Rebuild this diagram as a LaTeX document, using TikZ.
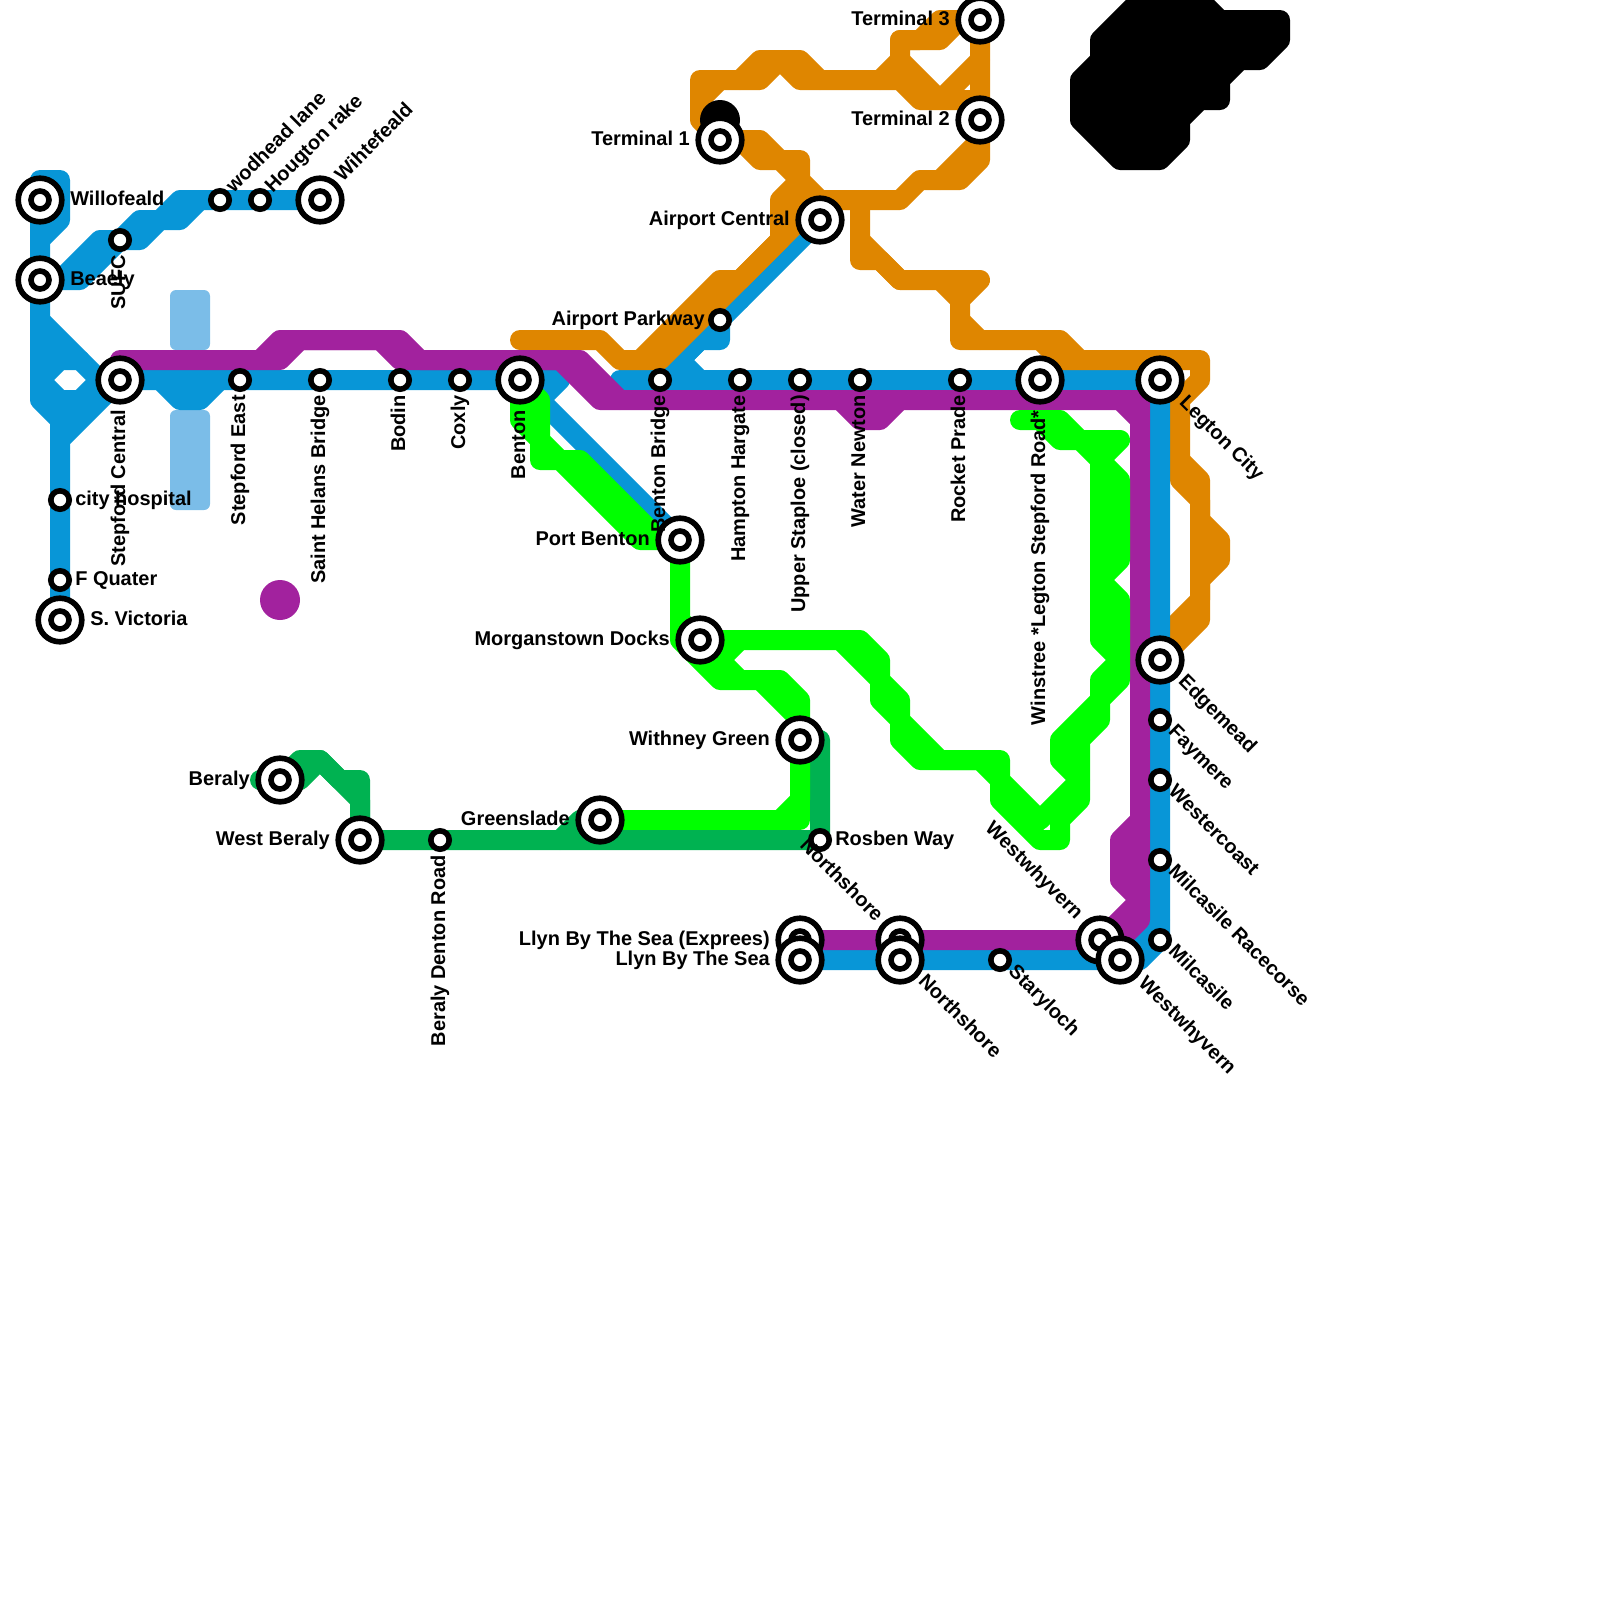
\documentclass[tikz,border=0pt]{standalone}
\usepackage{fontspec}
\setmainfont{Liberation Sans}
\definecolor{lineblue}{HTML}{0896D7}
\definecolor{lineorange}{HTML}{DF8600}
\definecolor{linepurple}{HTML}{A2229E}
\definecolor{linelime}{HTML}{00FF00}
\definecolor{linegreen}{HTML}{00B251}
\definecolor{lineshade}{HTML}{7BBDE8}
\pgfdeclarelayer{lines}
\pgfsetlayers{lines,main}
\tikzset{
  metroline/.style={line width=5mm,line cap=round,line join=round},
  smallstn/.style={circle,draw=black,fill=white,line width=1.4mm,minimum size=4.6mm,inner sep=0pt},
  bigstn/.style={circle,draw=black,fill=white,line width=1.4mm,minimum size=10.9mm,inner sep=0pt,
    path picture={\draw[line width=1.4mm] (path picture bounding box.center) circle (2.25mm);}},
  lbl/.style={font=\bfseries\fontsize{14.2}{14.2}\selectfont,inner sep=0pt,text height=10.2pt,text depth=3pt},
  lble/.style={lbl,anchor=west},
  lblw/.style={lbl,anchor=east},
  lbls/.style={lbl,anchor=east,rotate=90},
  lblne/.style={lbl,anchor=west,rotate=45},
  lblse/.style={lbl,anchor=west,rotate=-45},
  lblnw/.style={lbl,anchor=east,rotate=-45}
}
\begin{document}
\begin{tikzpicture}[x=0.5cm,y=-0.5cm]
    \useasboundingbox (0,0) rectangle (80,80);

    % Stations
    \node[bigstn] (willofeald) at (2,10) {};
    \node[bigstn] (beaely) at (2,14) {};
    \node[smallstn] (sufc) at (6,12) {};
    \node[smallstn] (wodhead) at (11,10) {};
    \node[smallstn] (hougton) at (13,10) {};
    \node[bigstn] (wihtefeald) at (16,10) {};
    \node[smallstn] (cityhospital) at (3,25) {};
    \node[smallstn] (fquater) at (3,29) {};
    \node[bigstn] (victoria) at (3,31) {};
    \node[bigstn] (stepfordcentral) at (6,19) {};
    \node[smallstn] (stepfordeast) at (12,19) {};
    \node[smallstn] (sainthelans) at (16,19) {};
    \node[smallstn] (bodin) at (20,19) {};
    \node[smallstn] (coxly) at (23,19) {};
    \node[bigstn] (benton) at (26,19) {};
    \node[smallstn] (bentonbridge) at (33,19) {};
    \node[smallstn] (hampton) at (37,19) {};
    \node[smallstn] (staploe) at (40,19) {};
    \node[smallstn] (waternewton) at (43,19) {};
    \node[smallstn] (rocketprade) at (48,19) {};
    \node[bigstn] (winstree) at (52,19) {};
    \node[bigstn] (legtoncity) at (58,19) {};
    \node[bigstn] (edgemead) at (58,33) {};
    \node[smallstn] (faymere) at (58,36) {};
    \node[smallstn] (westercoast) at (58,39) {};
    \node[smallstn] (racecorse) at (58,43) {};
    \node[smallstn] (milcasile) at (58,47) {};
    \node[bigstn] (westwhyvernp) at (55,47) {};
    \node[bigstn] (westwhyvern) at (56,48) {};
    \node[smallstn] (staryloch) at (50,48) {};
    \node[bigstn] (northshorep) at (45,47) {};
    \node[bigstn] (northshore) at (45,48) {};
    \node[bigstn] (llynexpress) at (40,47) {};
    \node[bigstn] (llyn) at (40,48) {};
    \node[smallstn] (rosben) at (41,42) {};
    \node[bigstn] (withney) at (40,37) {};
    \node[bigstn] (morganstown) at (35,32) {};
    \node[bigstn] (portbenton) at (34,27) {};
    \node[bigstn] (greenslade) at (30,41) {};
    \node[smallstn] (beralydenton) at (22,42) {};
    \node[bigstn] (westberaly) at (18,42) {};
    \node[bigstn] (beraly) at (14,39) {};
    \node[smallstn] (airportparkway) at (36,16) {};
    \node[bigstn] (airportcentral) at (41,11) {};
    \node[bigstn] (terminalone) at (36,7) {};
    \node[bigstn] (terminaltwo) at (49,6) {};
    \node[bigstn] (terminalthree) at (49,1) {};

    \begin{pgfonlayer}{lines}
    % Shaded blocks
    \fill[lineshade,rounded corners=1.5mm] (8.5,14.5) rectangle (10.5,17.5);
    \fill[lineshade,rounded corners=1.5mm] (8.5,20.5) rectangle (10.5,25.5);

    % Blue line
    \draw[metroline,lineblue] (willofeald.center) -- (2,9) -- (3,9) -- (3,11) -- (2,12);
    \draw[metroline,lineblue] (willofeald.center) -- (beaely.center) -- (2,20) -- (3,21) -- (3,22);
    \draw[metroline,lineblue] (beaely.center) -- (3,14) -- (5,12) -- (sufc.center) -- (7,11) -- (8,11) -- (9,10) -- (wodhead.center) -- (hougton.center) -- (wihtefeald.center);
    \draw[metroline,lineblue] (3,14) -- (4,14) -- (sufc.center) -- (7,12) -- (8,11) -- (9,11) -- (10,10);
    \draw[metroline,lineblue] (2,16) -- (5,19) -- (stepfordcentral.center);
    \draw[metroline,lineblue] (2,17) -- (3,18);
    \draw[metroline,lineblue] (2,19) -- (3,18) -- (4,18);
    \draw[metroline,lineblue] (2,19) -- (3,20) -- (4,20) -- (5,19);
    \draw[metroline,lineblue] (3,21) -- (4,20);
    \draw[metroline,lineblue] (victoria.center) -- (fquater.center) -- (cityhospital.center) -- (3,22) -- (stepfordcentral.center);
    \draw[metroline,lineblue] (stepfordcentral.center) -- (stepfordeast.center) -- (sainthelans.center) -- (bodin.center) -- (coxly.center) -- (benton.center) -- (28,19) -- (27,20);
    \draw[metroline,lineblue] (8,19) -- (9,20) -- (10,20) -- (11,19);
    \draw[metroline,lineblue] (benton.center) -- (portbenton.center);
    \draw[metroline,lineblue] (31,19) -- (bentonbridge.center) -- (hampton.center) -- (staploe.center) -- (waternewton.center) -- (rocketprade.center) -- (winstree.center) -- (legtoncity.center);
    \draw[metroline,lineblue] (airportcentral.center) -- (bentonbridge.center);
    \draw[metroline,lineblue] (37,15) -- (36,15) -- (airportparkway.center) -- (36,17) -- (35,17) -- (34,18) -- (35,19);

    % Orange line
    \draw[metroline,lineorange] (26,17) -- (30,17) -- (31,18) -- (33,18) -- (37,14) -- (39,12);
    \draw[metroline,lineorange] (32,18) -- (36,14) -- (37,14);
    \draw[metroline,lineorange] (37,14) -- (40,11) -- (40,9);
    \draw[metroline,lineorange] (39,12) -- (39,10) -- (40,9);
    \draw[metroline,lineorange] (terminalone.center) -- (38,7) -- (39,8) -- (40,8) -- (40,9) -- (41,10) -- (45,10) -- (46,9) -- (48,9) -- (49,8) -- (terminaltwo.center) -- (terminalthree.center) -- (47,1) -- (46,2) -- (45,2) -- (45,3) -- (44,4) -- (41,4) -- (40,3) -- (38,3) -- (37,4) -- (35,4) -- (35,6) -- (terminalone.center);
    \draw[metroline,lineorange] (35,5) -- (36,4);
    \draw[metroline,lineorange] (37,4) -- (38,4) -- (39,3) -- (40,4) -- (41,4);
    \draw[metroline,lineorange] (37,7) -- (38,8) -- (39,8) -- (40,9);
    \draw[metroline,lineorange] (47,9) -- (49,7);
    \draw[metroline,lineorange] (45,2) -- (47,2) -- (48,1);
    \draw[metroline,lineorange] (45,3) -- (47,5) -- (49,3);
    \draw[metroline,lineorange] (44,4) -- (45,4) -- (46,5) -- (49,5);
    \draw[metroline,lineorange] (43,10) -- (43,13) -- (44,13) -- (45,14) -- (49,14) -- (48,15) -- (48,17) -- (53,17) -- (54,18) -- (60,18) -- (60,19) -- (59,20) -- (59,24) -- (60,25) -- (60,30) -- (58,32);
    \draw[metroline,lineorange] (43,12) -- (45,14);
    \draw[metroline,lineorange] (47,14) -- (48,15);
    \draw[metroline,lineorange] (48,16) -- (49,17);
    \draw[metroline,lineorange] (52,17) -- (53,18) -- (54,18);
    \draw[metroline,lineorange] (59,23) -- (60,24) -- (60,26) -- (61,27) -- (61,28) -- (60,29) -- (60,31) -- (edgemead.center);

    % Blue line, east side
    \draw[metroline,lineblue] (legtoncity.center) -- (edgemead.center) -- (faymere.center) -- (westercoast.center) -- (racecorse.center) -- (milcasile.center) -- (57,48) -- (westwhyvern.center) -- (staryloch.center) -- (northshore.center) -- (llyn.center);
    \draw[metroline,lineblue] (58,46) -- (westwhyvern.center);

    % Purple line
    \draw[metroline,linepurple] (6,18) -- (14,18) -- (15,17) -- (19,17) -- (20,18) -- (28,18) -- (30,20) -- (57,20) -- (57,46) -- (56,47) -- (westwhyvernp.center) -- (northshorep.center) -- (llynexpress.center);
    \draw[metroline,linepurple] (13,18) -- (14,17) -- (20,17) -- (21,18) -- (29,18) -- (31,20);
    \draw[metroline,linepurple] (42,20) -- (43,21) -- (44,21) -- (45,20);
    \draw[metroline,linepurple] (56,20) -- (57,21);
    \draw[metroline,linepurple] (57,41) -- (56,42) -- (56,44) -- (57,45) -- (westwhyvernp.center);
    \node[circle,fill=linepurple,minimum size=10mm,inner sep=0pt] (purpledot) at (14,30) {};

    % Dark green line
    \draw[metroline,linegreen] (13,39) -- (15,39) -- (16,38) -- (18,40) -- (westberaly.center);
    \draw[metroline,linegreen] (beraly.center) -- (15,38) -- (16,38) -- (17,39) -- (18,39) -- (westberaly.center) -- (beralydenton.center) -- (rosben.center) -- (41,37) -- (withney.center);
    \draw[metroline,linegreen] (28,42) -- (29,41) -- (greenslade.center);

    % Lime line
    \draw[metroline,linelime] (benton.center) -- (27,20) -- (27,22) -- (28,23) -- (29,23) -- (33,27) -- (portbenton.center);
    \draw[metroline,linelime] (benton.center) -- (26,21) -- (27,22) -- (27,23) -- (28,23) -- (32,27) -- (portbenton.center);
    \draw[metroline,linelime] (portbenton.center) -- (34,31) -- (morganstown.center) -- (36,33) -- (37,34);
    \draw[metroline,linelime] (34,31) -- (34,32) -- (36,34) -- (39,34) -- (40,35) -- (withney.center) -- (40,40) -- (39,41);
    \draw[metroline,linelime] (38,34) -- (40,36);
    \draw[metroline,linelime] (greenslade.center) -- (40,41) -- (40,40);
    \draw[metroline,linelime] (37,32) -- (36,33);
    \draw[metroline,linelime] (morganstown.center) -- (43,32) -- (44,33) -- (44,34) -- (45,35) -- (45,36) -- (47,38) -- (50,38) -- (50,39) -- (52,41) -- (54,39) -- (53,38) -- (53,37) -- (55,35) -- (55,34) -- (56,33) -- (55,32) -- (55,23) -- (54,22) -- (53,21) -- (51,21);
    \draw[metroline,linelime] (42,32) -- (44,34) -- (44,35) -- (45,36) -- (45,37) -- (46,38) -- (49,38) -- (50,39) -- (50,40) -- (52,42) -- (53,42) -- (53,41) -- (54,40) -- (54,37) -- (55,36) -- (55,35) -- (56,34) -- (56,30) -- (55,29) -- (56,28) -- (56,24) -- (55,23) -- (56,22) -- (53,22) -- (52,21);

    % Black line
    \draw[metroline,black,fill=black] (57,0) -- (55,2) -- (55,3) -- (54,4) -- (54,6) -- (56,8) -- (58,8) -- (59,7) -- (59,6) -- (60,5) -- (61,5) -- (61,4) -- (62,3) -- (63,3) -- (64,2) -- (64,1) -- (61,1) -- (60,0) -- cycle;
    \node[circle,fill=black,minimum size=10mm,inner sep=0pt] (blackdot) at (36,6) {};
    \end{pgfonlayer}

    % Labels
    \node[lble] (lblwillofeald) at ([shift={(1.5,0)}]willofeald.center) {Willofeald};
    \node[lble] (lblbeaely) at ([shift={(1.5,0)}]beaely.center) {Beaely};
    \node[lbls] (lblsufc) at ([shift={(0,.75)}]sufc.center) {SUFC};
    \node[lblne] (lblwodhead) at ([shift={(.5,-.5)}]wodhead.center) {wodhead lane};
    \node[lblne] (lblhougton) at ([shift={(.45,-.5)}]hougton.center) {Hougton rake};
    \node[lblne] (lblwihtefeald) at ([shift={(.95,-1.05)}]wihtefeald.center) {Wihtefeald};
    \node[lble] (lblcityhospital) at ([shift={(.75,0)}]cityhospital.center) {city hospital};
    \node[lble] (lblfquater) at ([shift={(.75,0)}]fquater.center) {F Quater};
    \node[lble] (lblvictoria) at ([shift={(1.5,0)}]victoria.center) {S. Victoria};
    \node[lbls] (lblstepfordcentral) at ([shift={(0,1.5)}]stepfordcentral.center) {Stepford Central};
    \node[lbls] (lblstepfordeast) at ([shift={(0,.75)}]stepfordeast.center) {Stepford East};
    \node[lbls] (lblsainthelans) at ([shift={(0,.75)}]sainthelans.center) {Saint Helans Bridge};
    \node[lbls] (lblbodin) at ([shift={(0,.75)}]bodin.center) {Bodin};
    \node[lbls] (lblcoxly) at ([shift={(0,.75)}]coxly.center) {Coxly};
    \node[lbls] (lblbenton) at ([shift={(0,1.5)}]benton.center) {Benton};
    \node[lbls] (lblbentonbridge) at ([shift={(0,.75)}]bentonbridge.center) {Benton Bridge};
    \node[lbls] (lblhampton) at ([shift={(0,.75)}]hampton.center) {Hampton Hargate};
    \node[lbls] (lblstaploe) at ([shift={(0,.75)}]staploe.center) {Upper Staploe (closed)};
    \node[lbls] (lblwaternewton) at ([shift={(0,.75)}]waternewton.center) {Water Newton};
    \node[lbls] (lblrocketprade) at ([shift={(0,.75)}]rocketprade.center) {Rocket Prade};
    \node[lbls] (lblwinstree) at ([shift={(0,1.5)}]winstree.center) {Winstree *Legton Stepford Road*};
    \node[lblse] (lbllegtoncity) at ([shift={(1.1,1.0)}]legtoncity.center) {Legton City};
    \node[lblse] (lbledgemead) at ([shift={(1.05,.95)}]edgemead.center) {Edgemead};
    \node[lblse] (lblfaymere) at ([shift={(.55,.45)}]faymere.center) {Faymere};
    \node[lblse] (lblwestercoast) at ([shift={(.55,.45)}]westercoast.center) {Westercoast};
    \node[lblse] (lblracecorse) at ([shift={(.55,.45)}]racecorse.center) {Milcasile Racecorse};
    \node[lblse] (lblmilcasile) at ([shift={(.55,.45)}]milcasile.center) {Milcasile};
    \node[lblse] (lblwestwhyvern) at ([shift={(1.05,1.05)}]westwhyvern.center) {Westwhyvern};
    \node[lblnw] (lblwestwhyvernp) at ([shift={(-1.05,-1.15)}]westwhyvernp.center) {Westwhyvern};
    \node[lblse] (lblstaryloch) at ([shift={(.55,.45)}]staryloch.center) {Staryloch};
    \node[lblse] (lblnorthshore) at ([shift={(1.05,.95)}]northshore.center) {Northshore};
    \node[lblnw] (lblnorthshorep) at ([shift={(-1.05,-1.05)}]northshorep.center) {Northshore};
    \node[lblw] (lblllynexpress) at ([shift={(-1.5,0)}]llynexpress.center) {Llyn By The Sea (Exprees)};
    \node[lblw] (lblllyn) at ([shift={(-1.5,0)}]llyn.center) {Llyn By The Sea};
    \node[lble] (lblrosben) at ([shift={(.75,0)}]rosben.center) {Rosben Way};
    \node[lblw] (lblwithney) at ([shift={(-1.5,0)}]withney.center) {Withney Green};
    \node[lblw] (lblmorganstown) at ([shift={(-1.5,0)}]morganstown.center) {Morganstown Docks};
    \node[lblw] (lblportbenton) at ([shift={(-1.5,0)}]portbenton.center) {Port Benton};
    \node[lblw] (lblgreenslade) at ([shift={(-1.5,0)}]greenslade.center) {Greenslade};
    \node[lbls] (lblberalydenton) at ([shift={(0,.75)}]beralydenton.center) {Beraly Denton Road};
    \node[lblw] (lblwestberaly) at ([shift={(-1.5,0)}]westberaly.center) {West Beraly};
    \node[lblw] (lblberaly) at ([shift={(-1.5,0)}]beraly.center) {Beraly};
    \node[lblw] (lblairportparkway) at ([shift={(-.75,0)}]airportparkway.center) {Airport Parkway};
    \node[lblw] (lblairportcentral) at ([shift={(-1.5,0)}]airportcentral.center) {Airport Central};
    \node[lblw] (lblterminalone) at ([shift={(-1.5,0)}]terminalone.center) {Terminal 1};
    \node[lblw] (lblterminaltwo) at ([shift={(-1.5,0)}]terminaltwo.center) {Terminal 2};
    \node[lblw] (lblterminalthree) at ([shift={(-1.5,0)}]terminalthree.center) {Terminal 3};
\end{tikzpicture}
\end{document}
